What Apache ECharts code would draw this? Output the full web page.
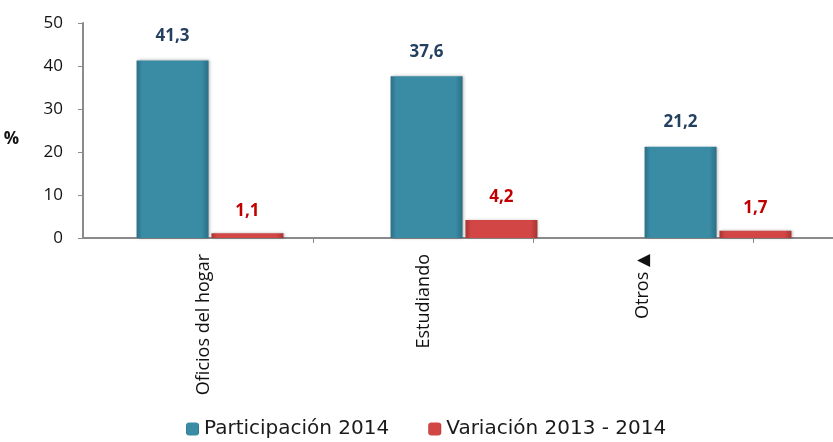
<!DOCTYPE html>
<html>
<head>
<meta charset="utf-8">
<style>
  html, body { margin: 0; padding: 0; background: #fff; overflow: hidden; }
  /* the plot runs a little past the right edge of the window */
  #chart { width: 845px; height: 442px; }
</style>
<script src="https://cdn.jsdelivr.net/npm/echarts@6/dist/echarts.min.js"></script>
</head>
<body>
<div id="chart"></div>
<script>
// Categories and series
var categories = ['Oficios del hogar', 'Estudiando', 'Otros \u25B2'];
var participacion2014 = [41.3, 37.6, 21.2];
var variacion2013_2014 = [1.1, 4.2, 1.7];
var yTicks = [0, 10, 20, 30, 40, 50];
var seriesNames = ['Participación 2014', 'Variación 2013 - 2014'];

var FONT = '"Open Sans", "Noto Sans", sans-serif';

function fmt(v) { return String(v).replace('.', ','); }

// Horizontal shading gives the bars a slight bevelled look
function bevel(mid, edge) {
  return {
    type: 'linear', x: 0, y: 0, x2: 1, y2: 0,
    colorStops: [
      { offset: 0, color: edge },
      { offset: 0.08, color: mid },
      { offset: 0.9, color: mid },
      { offset: 1, color: edge }
    ]
  };
}

var chart = echarts.init(document.getElementById('chart'));
chart.setOption({
  animation: false,
  grid: [
    { left: 83, right: 0, top: 23, bottom: 204 },
    { left: 94, width: 659, top: 23, bottom: 204 }
  ],
  legend: {
    data: seriesNames,
    left: 186,
    top: 419,
    padding: 0,
    itemWidth: 13,
    itemHeight: 13,
    itemGap: 39,
    textStyle: { fontFamily: '"DejaVu Sans", sans-serif', fontSize: 20, color: '#1a1a1a' }
  },
  xAxis: [
    {
      type: 'category', gridIndex: 0, data: categories,
      axisLine: { lineStyle: { color: '#8a8a8a', width: 2 } },
      axisTick: { show: false },
      axisLabel: { show: false }
    },
    {
      type: 'category', gridIndex: 1, data: categories,
      axisLine: { show: false },
      axisTick: {
        show: true, length: 5,
        interval: function (i) { return i > 0; },
        lineStyle: { color: '#8a8a8a' }
      },
      axisLabel: {
        rotate: 90, margin: 16,
        fontFamily: FONT, fontSize: 18, color: '#111',
        formatter: function (v) {
          var parts = v.split(' \u25B2');
          return parts.length > 1 ? parts[0] + ' {tri|\u25B2}' : v;
        },
        rich: {
          tri: { fontFamily: '"DejaVu Sans", sans-serif', fontSize: 17, color: '#111' }
        }
      }
    }
  ],
  yAxis: [
    {
      type: 'value', gridIndex: 0, min: 0, max: 50, interval: 10,
      name: '%', nameLocation: 'middle', nameRotate: 0, nameGap: 64,
      nameTextStyle: { fontFamily: FONT, fontSize: 17, fontWeight: 'bold', color: '#111', verticalAlign: 'top' },
      axisLine: { show: true, lineStyle: { color: '#8a8a8a', width: 2 } },
      axisTick: { show: true, length: 5, lineStyle: { color: '#8a8a8a' } },
      splitLine: { show: false },
      axisLabel: {
        margin: 20, fontFamily: FONT, fontSize: 17, color: '#111',
        formatter: function (v) { return yTicks.indexOf(v) >= 0 ? String(v) : ''; }
      }
    },
    {
      type: 'value', gridIndex: 1, min: 0, max: 50, show: false
    }
  ],
  series: [
    {
      name: seriesNames[0], type: 'bar', xAxisIndex: 0, yAxisIndex: 0,
      data: participacion2014, barWidth: 72, barGap: '4%',
      itemStyle: {
        color: bevel('#3a8ca5', '#2b6f85'),
        shadowColor: 'rgba(0,0,0,0.3)', shadowBlur: 3, shadowOffsetX: 1
      },
      label: {
        show: true, position: 'top', distance: 16,
        formatter: function (p) { return fmt(p.value); },
        fontFamily: FONT, fontSize: 17, fontWeight: 'bold', color: '#243f60'
      }
    },
    {
      name: seriesNames[1], type: 'bar', xAxisIndex: 0, yAxisIndex: 0,
      data: variacion2013_2014, barWidth: 72,
      itemStyle: {
        color: bevel('#d24746', '#a83333'),
        shadowColor: 'rgba(0,0,0,0.3)', shadowBlur: 3, shadowOffsetX: 1
      },
      label: {
        show: true, position: 'top', distance: 14,
        formatter: function (p) { return fmt(p.value); },
        fontFamily: FONT, fontSize: 17, fontWeight: 'bold', color: '#c00000'
      }
    }
  ]
});
</script>
</body>
</html>
